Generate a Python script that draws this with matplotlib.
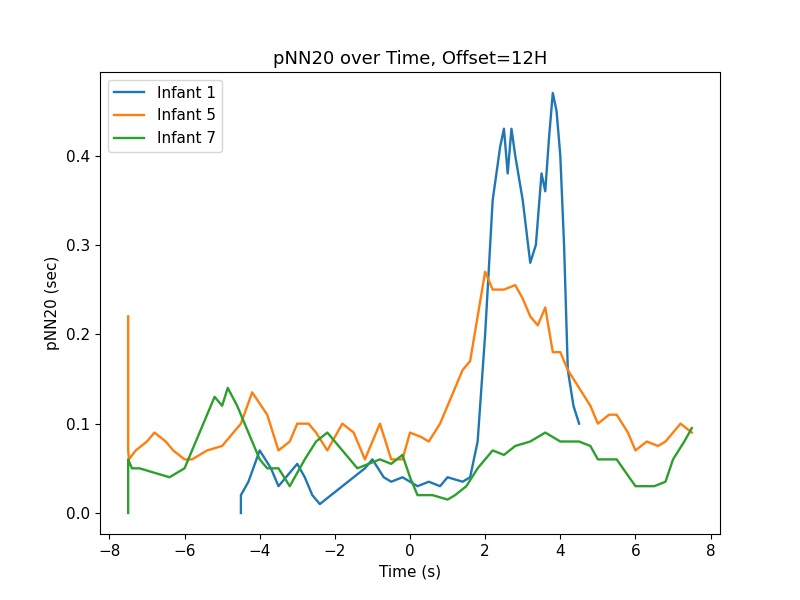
import numpy as np
import matplotlib.pyplot as plt

plt.rcParams['font.size'] = 11

# Infant 1
t1 = [-4.5, -4.5, -4.3, -4.0, -3.7, -3.5, -3.2, -3.0, -2.8, -2.6, -2.4, -2.1, -1.8, -1.5, -1.2, -1.0,
      -0.7, -0.5, -0.2, 0.2, 0.5, 0.8, 1.0, 1.4, 1.6, 1.8, 2.0, 2.2, 2.4, 2.5, 2.6, 2.7, 2.8, 3.0,
      3.2, 3.35, 3.5, 3.6, 3.7, 3.8, 3.9, 4.0, 4.1, 4.2, 4.35, 4.5]
p1 = [0.0, 0.02, 0.035, 0.07, 0.05, 0.03, 0.045, 0.055, 0.04, 0.02, 0.01, 0.02, 0.03, 0.04, 0.05, 0.06,
      0.04, 0.035, 0.04, 0.03, 0.035, 0.03, 0.04, 0.035, 0.04, 0.08, 0.2, 0.35, 0.41, 0.43, 0.38, 0.43, 0.40, 0.35,
      0.28, 0.30, 0.38, 0.36, 0.42, 0.47, 0.45, 0.40, 0.30, 0.16, 0.12, 0.10]

# Infant 5
t5 = [-7.5, -7.5, -7.48, -7.3, -7.0, -6.8, -6.5, -6.3, -6.0, -5.8, -5.4, -5.0, -4.7, -4.5, -4.2, -3.8,
      -3.5, -3.2, -3.0, -2.7, -2.5, -2.2, -1.8, -1.5, -1.2, -1.0, -0.8, -0.5, -0.2, 0.0, 0.3, 0.5,
      0.8, 1.0, 1.2, 1.4, 1.6, 1.8, 2.0, 2.2, 2.5, 2.8, 3.0, 3.2, 3.4, 3.6, 3.8, 4.0, 4.2, 4.5, 4.8,
      5.0, 5.3, 5.5, 5.8, 6.0, 6.3, 6.6, 6.8, 7.0, 7.2, 7.5]
p5 = [0.22, 0.07, 0.06, 0.07, 0.08, 0.09, 0.08, 0.07, 0.06, 0.06, 0.07, 0.075, 0.09, 0.1, 0.135, 0.11,
      0.07, 0.08, 0.1, 0.1, 0.09, 0.07, 0.1, 0.09, 0.06, 0.08, 0.1, 0.06, 0.06, 0.09, 0.085, 0.08,
      0.1, 0.12, 0.14, 0.16, 0.17, 0.22, 0.27, 0.25, 0.25, 0.255, 0.24, 0.22, 0.21, 0.23, 0.18, 0.18, 0.16, 0.14, 0.12,
      0.1, 0.11, 0.11, 0.09, 0.07, 0.08, 0.075, 0.08, 0.09, 0.1, 0.09]

# Infant 7
t7 = [-7.5, -7.5, -7.4, -7.2, -6.8, -6.4, -6.0, -5.6, -5.5, -5.2, -5.0, -4.85, -4.6, -4.4, -4.0, -3.8,
      -3.5, -3.2, -2.8, -2.5, -2.2, -1.8, -1.4, -1.1, -0.8, -0.5, -0.2, 0.0, 0.2, 0.6, 1.0, 1.2, 1.5,
      1.8, 2.0, 2.2, 2.5, 2.8, 3.2, 3.6, 4.0, 4.5, 4.8, 5.0, 5.3, 5.5, 6.0, 6.5, 6.8, 7.0, 7.3, 7.5]
p7 = [0.0, 0.06, 0.05, 0.05, 0.045, 0.04, 0.05, 0.09, 0.1, 0.13, 0.12, 0.14, 0.12, 0.1, 0.06, 0.05,
      0.05, 0.03, 0.06, 0.08, 0.09, 0.07, 0.05, 0.055, 0.06, 0.055, 0.065, 0.04, 0.02, 0.02, 0.015, 0.02, 0.03,
      0.05, 0.06, 0.07, 0.065, 0.075, 0.08, 0.09, 0.08, 0.08, 0.075, 0.06, 0.06, 0.06, 0.03, 0.03, 0.035, 0.06, 0.08, 0.095]

fig = plt.figure(figsize=(8, 6), dpi=100)
plt.plot(t1, p1, label="Infant 1", linewidth=1.7)
plt.plot(t5, p5, label="Infant 5", linewidth=1.7)
plt.plot(t7, p7, label="Infant 7", linewidth=1.7)
plt.xlabel("Time (s)")
plt.ylabel("pNN20 (sec)")
plt.title("pNN20 over Time, Offset=12H", fontsize=13)
plt.legend(loc="upper left")
plt.savefig("out.png", dpi=100)
